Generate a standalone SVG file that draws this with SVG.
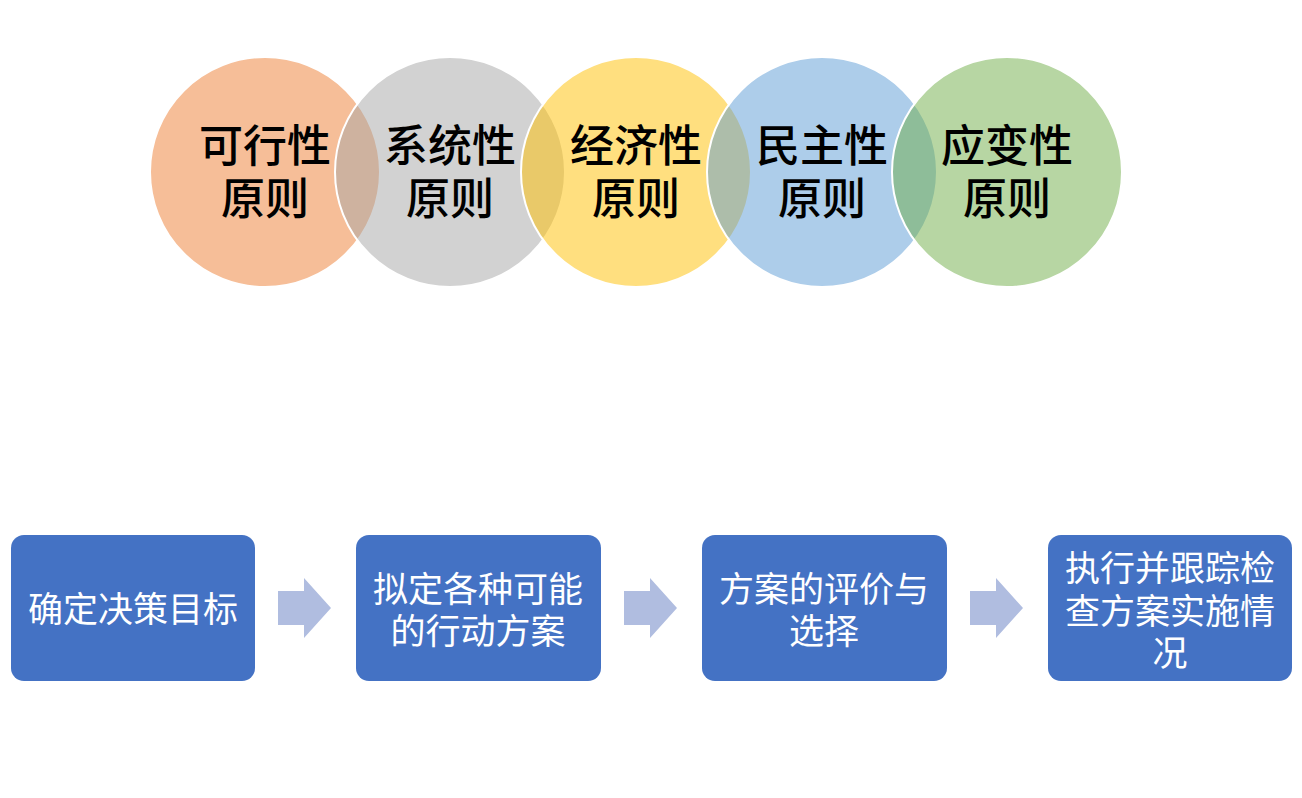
<svg xmlns="http://www.w3.org/2000/svg" width="1302" height="798" viewBox="0 0 1302 798">
<style>
.c{stroke:#fff;stroke-width:2;fill-opacity:0.5}
.ct{font-family:"Noto Sans CJK SC","Noto Sans",sans-serif;font-size:44px;font-weight:500;fill:#000;text-anchor:middle;dominant-baseline:central}
.b{fill:#4472C4}
.bt{font-family:"Noto Sans CJK SC","Noto Sans",sans-serif;font-size:35px;fill:#fff;text-anchor:middle;dominant-baseline:central}
.a{fill:#B0BDE0}
</style>
<rect width="1302" height="798" fill="#fff"/>
<g id="circles">
<g id="c1"><circle class="c" cx="265" cy="172" r="115" fill="#ED7D31"/></g>
<g id="c2"><circle class="c" cx="450" cy="172" r="115" fill="#A5A5A5"/></g>
<g id="c3"><circle class="c" cx="636" cy="172" r="115" fill="#FFC000"/></g>
<g id="c4"><circle class="c" cx="822" cy="172" r="115" fill="#5B9BD5"/></g>
<g id="c5"><circle class="c" cx="1007" cy="172" r="115" fill="#70AD47"/></g>
</g>
<g id="circle-labels">
<text class="ct" x="265" y="143">可行性</text><text class="ct" x="265" y="196">原则</text>
<text class="ct" x="450" y="143">系统性</text><text class="ct" x="450" y="196">原则</text>
<text class="ct" x="636" y="143">经济性</text><text class="ct" x="636" y="196">原则</text>
<text class="ct" x="822" y="143">民主性</text><text class="ct" x="822" y="196">原则</text>
<text class="ct" x="1007" y="143">应变性</text><text class="ct" x="1007" y="196">原则</text>
</g>
<g id="step1"><rect class="b" x="11" y="535" width="244" height="146" rx="13"/><text class="bt" x="133" y="606">确定决策目标</text></g>
<g id="step2"><rect class="b" x="356" y="535" width="245" height="146" rx="13"/><text class="bt" x="478" y="586">拟定各种可能</text><text class="bt" x="478" y="628">的行动方案</text></g>
<g id="step3"><rect class="b" x="702" y="535" width="245" height="146" rx="13"/><text class="bt" x="824" y="586">方案的评价与</text><text class="bt" x="824" y="628">选择</text></g>
<g id="step4"><rect class="b" x="1048" y="535" width="244" height="146" rx="13"/><text class="bt" x="1170" y="565">执行并跟踪检</text><text class="bt" x="1170" y="608">查方案实施情</text><text class="bt" x="1170" y="650">况</text></g>
<g id="connectors">
<path class="a" d="M278 591H304V578L331 608L304 638V625H278Z"/>
<path class="a" d="M624 591H650V578L677 608L650 638V625H624Z"/>
<path class="a" d="M970 591H996V578L1023 608L996 638V625H970Z"/>
</g>
</svg>
